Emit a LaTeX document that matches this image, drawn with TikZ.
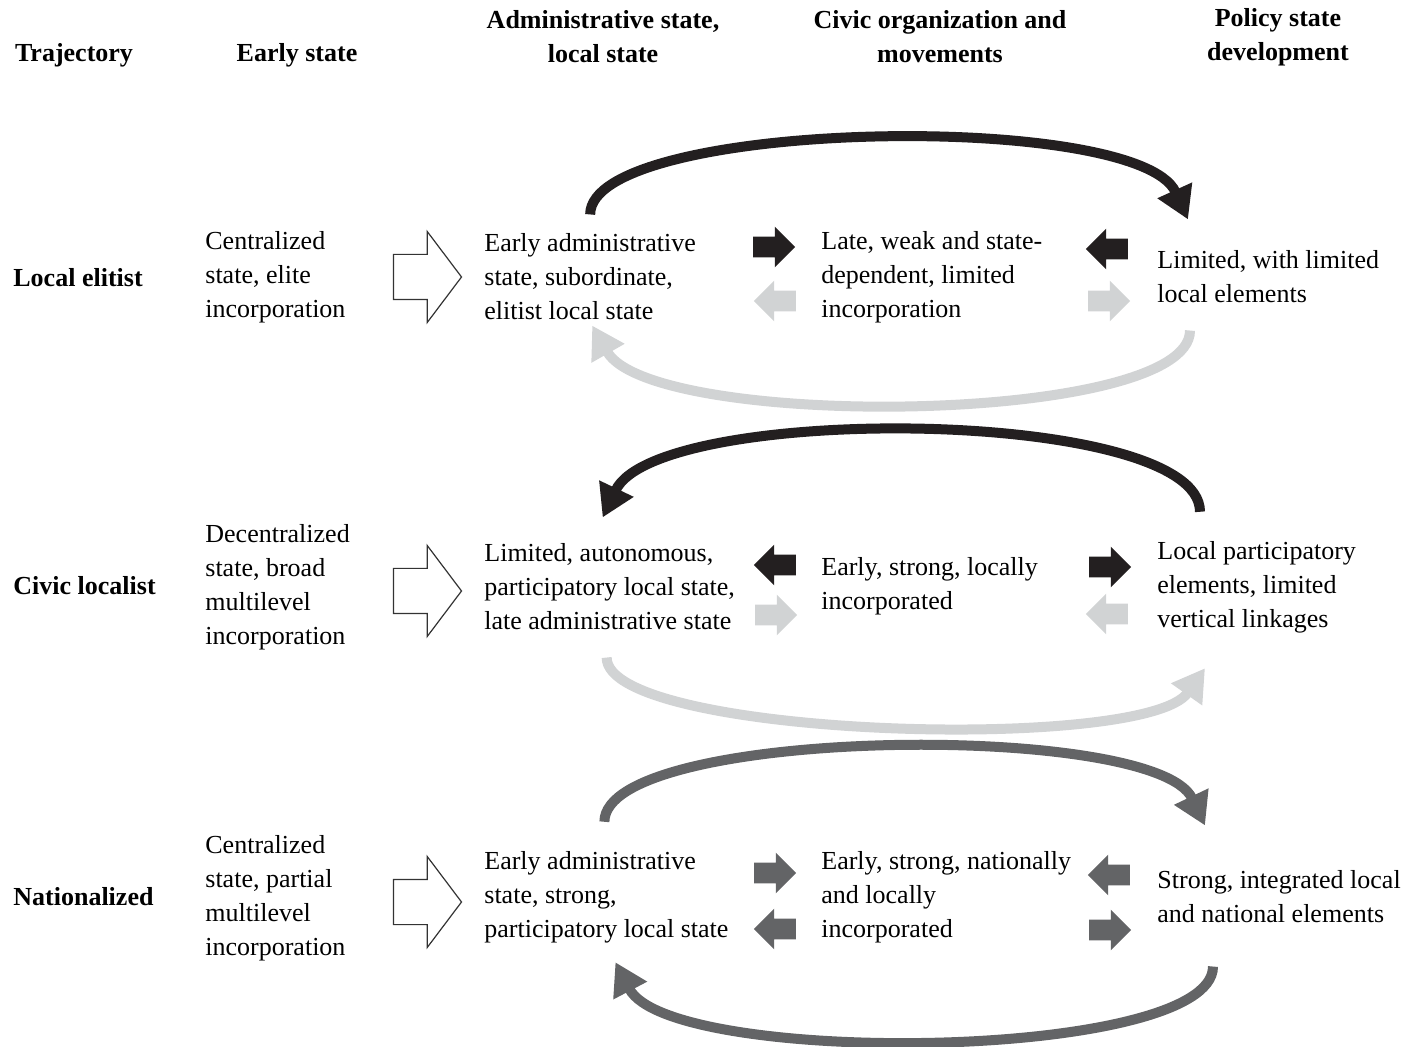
\documentclass[tikz,border=0pt]{standalone}
\usepackage{fontspec}
\setmainfont{Liberation Serif}
\usetikzlibrary{shapes.arrows,arrows.meta,positioning}
\definecolor{ink}{HTML}{231F20}
\definecolor{pale}{HTML}{D1D3D4}
\definecolor{mid}{HTML}{636466}

\begin{document}
\begin{tikzpicture}[x=0.5pt,y=-0.5pt,every node/.style={font=\fontsize{13}{17}\selectfont},
  pointl/.style={shape border rotate=180}]
\tikzstyle{head}=[font=\fontsize{13}{17}\selectfont\bfseries,align=center,inner sep=0pt]
\tikzstyle{rowlab}=[font=\fontsize{13}{17}\selectfont\bfseries,anchor=west,inner sep=0pt]
\tikzstyle{cell}=[anchor=west,align=left,inner sep=0pt]
\tikzstyle{openarr}=[single arrow,draw=black!80,line width=0.6pt,fill=white,minimum height=34pt,
  inner xsep=0pt,inner ysep=11pt,single arrow head extend=11.5pt,single arrow tip angle=106]
\tikzstyle{smallarr}=[single arrow,draw=none,minimum height=21pt,inner xsep=0pt,inner ysep=5pt,
  single arrow head extend=5pt]
\tikzstyle{bigloop}=[line width=5pt,-{Triangle[length=16pt,width=18pt]}]
\useasboundingbox (0,0) rectangle (1409,1047);

\node[head] (htraj) at (74,55) {Trajectory};
\node[head] (hearly) at (297,55) {Early state};
\node[head] (hadm) at (603,37) {Administrative state,\\local state};
\node[head] (hciv) at (940,37) {Civic organization and\\movements};
\node[head] (hpol) at (1278,37) {Policy state\\development};

\node[rowlab] (r1) at (13,278) {Local elitist};
\node[rowlab] (r2) at (13,586) {Civic localist};
\node[rowlab] (r3) at (13,897) {Nationalized};

\node[cell] (e1) at (205,277) {Centralized\\state, elite\\incorporation};
\node[cell] (e2) at (205,587) {Decentralized\\state, broad\\multilevel\\incorporation};
\node[cell] (e3) at (205,898) {Centralized\\state, partial\\multilevel\\incorporation};

\node[openarr] (o1) at (419,277) {};
\node[openarr] (o2) at (419,591) {};
\node[openarr] (o3) at (419,902) {};

\node[cell] (a1) at (484,277) {Early administrative\\state, subordinate,\\elitist local state};
\node[cell] (a2) at (484,587) {Limited, autonomous,\\participatory local state,\\late administrative state};
\node[cell] (a3) at (484,897) {Early administrative\\state, strong,\\participatory local state};

\node[cell] (c1) at (821,277) {Late, weak and state-\\dependent, limited\\incorporation};
\node[cell] (c2) at (821,586) {Early, strong, locally\\incorporated};
\node[cell] (c3) at (821,897) {Early, strong, nationally\\and locally\\incorporated};

\node[cell] (p1) at (1157,277) {Limited, with limited\\local elements};
\node[cell] (p2) at (1157,587) {Local participatory\\elements, limited\\vertical linkages};
\node[cell] (p3) at (1157,897) {Strong, integrated local\\and national elements};

\node[smallarr,fill=ink] (s1a) at (769,247) {};
\node[smallarr,fill=pale,pointl] (s1b) at (780,301) {};
\node[smallarr,fill=ink,pointl] (s1c) at (1112,249) {};
\node[smallarr,fill=pale] (s1d) at (1104,301) {};

\node[smallarr,fill=ink,pointl] (s2a) at (780,565) {};
\node[smallarr,fill=pale] (s2b) at (771,615) {};
\node[smallarr,fill=ink] (s2c) at (1105,567) {};
\node[smallarr,fill=pale,pointl] (s2d) at (1112,614) {};

\node[smallarr,fill=mid] (s3a) at (770,873) {};
\node[smallarr,fill=mid,pointl] (s3b) at (780,929) {};
\node[smallarr,fill=mid,pointl] (s3c) at (1114,875) {};
\node[smallarr,fill=mid] (s3d) at (1105,930) {};

\draw[bigloop,ink] ([yshift=9.5pt]a1.north) .. controls +(0,-95) and +(-50,-110) .. ([shift={(15.5pt,15.5pt)}]p1.north west);
\draw[bigloop,pale] ([shift={(16.5pt,-13.5pt)}]p1.south west) .. controls +(0,95) and +(60,105) .. ([shift={(1pt,-2.5pt)}]a1.south);

\draw[bigloop,ink] ([shift={(21.5pt,14.5pt)}]p2.north west) .. controls +(0,-105) and +(55,-115) .. ([shift={(-3.5pt,13pt)}]a2.north);
\draw[bigloop,pale] ([shift={(-1.5pt,-13.5pt)}]a2.south) .. controls +(0,80) and +(-60,85) .. ([shift={(24pt,-17.5pt)}]p2.south west);

\draw[bigloop,mid] ([shift={(-1pt,14.5pt)}]a3.north) .. controls +(0,-95) and +(-50,-105) .. ([shift={(24pt,22.5pt)}]p3.north west);
\draw[bigloop,mid] ([shift={(28pt,-21.5pt)}]p3.south west) .. controls +(0,95) and +(55,105) .. ([shift={(4.5pt,-9.5pt)}]a3.south);
\end{tikzpicture}
\end{document}
